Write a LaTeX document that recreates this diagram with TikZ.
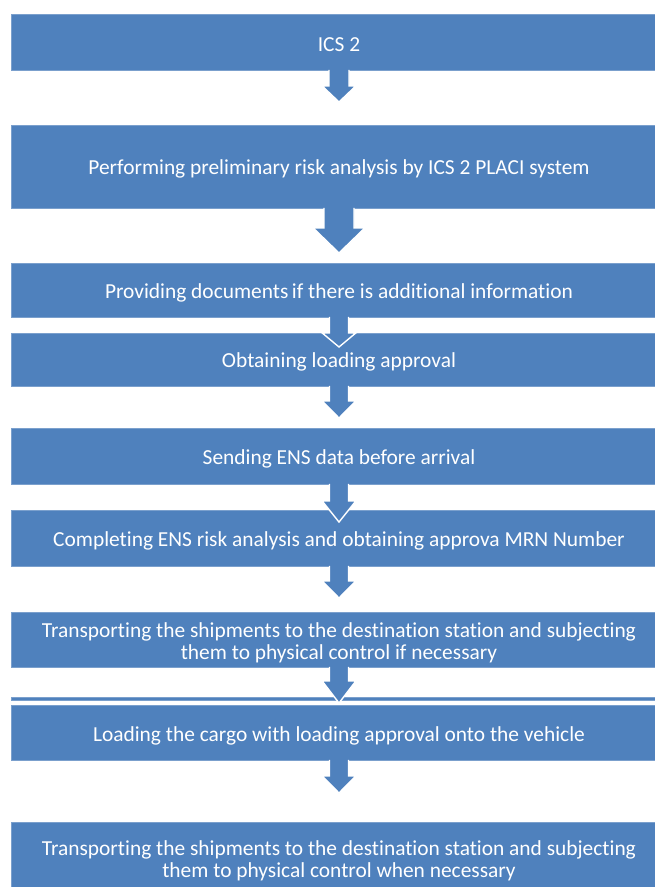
\documentclass[tikz,border=0pt]{standalone}
\usepackage{fontspec}
\setmainfont{Carlito}[Ligatures=NoCommon]
\usetikzlibrary{calc}
\definecolor{boxblue}{HTML}{4F81BD}
\tikzset{
  stepbox/.style={fill=boxblue, draw=boxblue!75!white, line width=0.8pt,
    minimum width=656pt, inner sep=0pt, anchor=north},
  steptext/.style={text=white, inner sep=0pt, align=center,
    font=\fontsize{21.4}{22}\selectfont},
  blockarrow/.style={fill=boxblue, draw=white, line width=1.4pt, line join=miter}
}
% #1 upper node, #2 lower node, #3 shaft half width, #4 head half width,
% #5 head start below #1, #6 tip offset from top of #2
\newcommand\flowarrow[6]{%
  \path (#1.south) coordinate (t) (#2.north) coordinate (u);
  \filldraw[blockarrow]
    ($(t)+(-#3,-1)$) -- ($(t)+(-#3,#5)$) -- ($(t)+(-#4,#5)$)
    -- (u |- {$(u)+(0,#6)$}) -- ($(t)+(#4,#5)$) -- ($(t)+(#3,#5)$)
    -- ($(t)+(#3,-1)$);
}
% label of a step box, set a little below its centre
\newcommand\steplabel[2]{\node[steptext] (#1t) at ($(#1.center)+(0,2.5)$) {#2};}
\begin{document}
\begin{tikzpicture}[x=1pt,y=-1pt]
\useasboundingbox (0,0) rectangle (655,887);
\node[stepbox, minimum height=56pt] (b1) at (339,14) {};
\steplabel{b1}{ICS 2}
\node[stepbox, minimum height=83pt] (b2) at (339,125) {};
\steplabel{b2}{Performing preliminary risk analysis by ICS 2 PLACI system}
\flowarrow{b1}{b2}{10}{17}{15}{-23}
\node[stepbox, minimum height=54pt] (b3) at (339,263) {};
\steplabel{b3}{Providing documents\,if there is additional information}
\flowarrow{b2}{b3}{15}{26}{19}{-10}
\node[stepbox, minimum height=53pt] (b4) at (339,333) {};
\steplabel{b4}{Obtaining loading approval}
\flowarrow{b3}{b4}{9.5}{17}{15}{14}
\node[stepbox, minimum height=56pt] (b5) at (339,428) {};
\steplabel{b5}{Sending ENS data before arrival}
\flowarrow{b4}{b5}{9.5}{17}{14}{-10}
\node[stepbox, minimum height=56pt] (b6) at (339,510) {};
\steplabel{b6}{Completing ENS risk analysis and obtaining approva MRN Number}
\flowarrow{b5}{b6}{9.5}{17}{16}{12}
\node[stepbox, minimum height=55pt] (b7) at (339,612) {};
\steplabel{b7}{Transporting the shipments to the destination station and subjecting\\them to physical control if necessary}
\flowarrow{b6}{b7}{9.5}{17}{14}{-14}
\node[stepbox, minimum height=3pt] (bar) at (339,697) {};
\node[stepbox, minimum height=55pt] (b8) at (339,705) {};
\steplabel{b8}{Loading the cargo with loading approval onto the vehicle}
\flowarrow{b7}{b8}{9.5}{17}{13}{-2}
\node[stepbox, minimum height=72pt] (b9) at (339,822) {};
\steplabel{b9}{Transporting the shipments to the destination station and subjecting\\them to physical control when necessary}
\flowarrow{b8}{b9}{9.5}{17}{15}{-29}
\end{tikzpicture}
\end{document}
